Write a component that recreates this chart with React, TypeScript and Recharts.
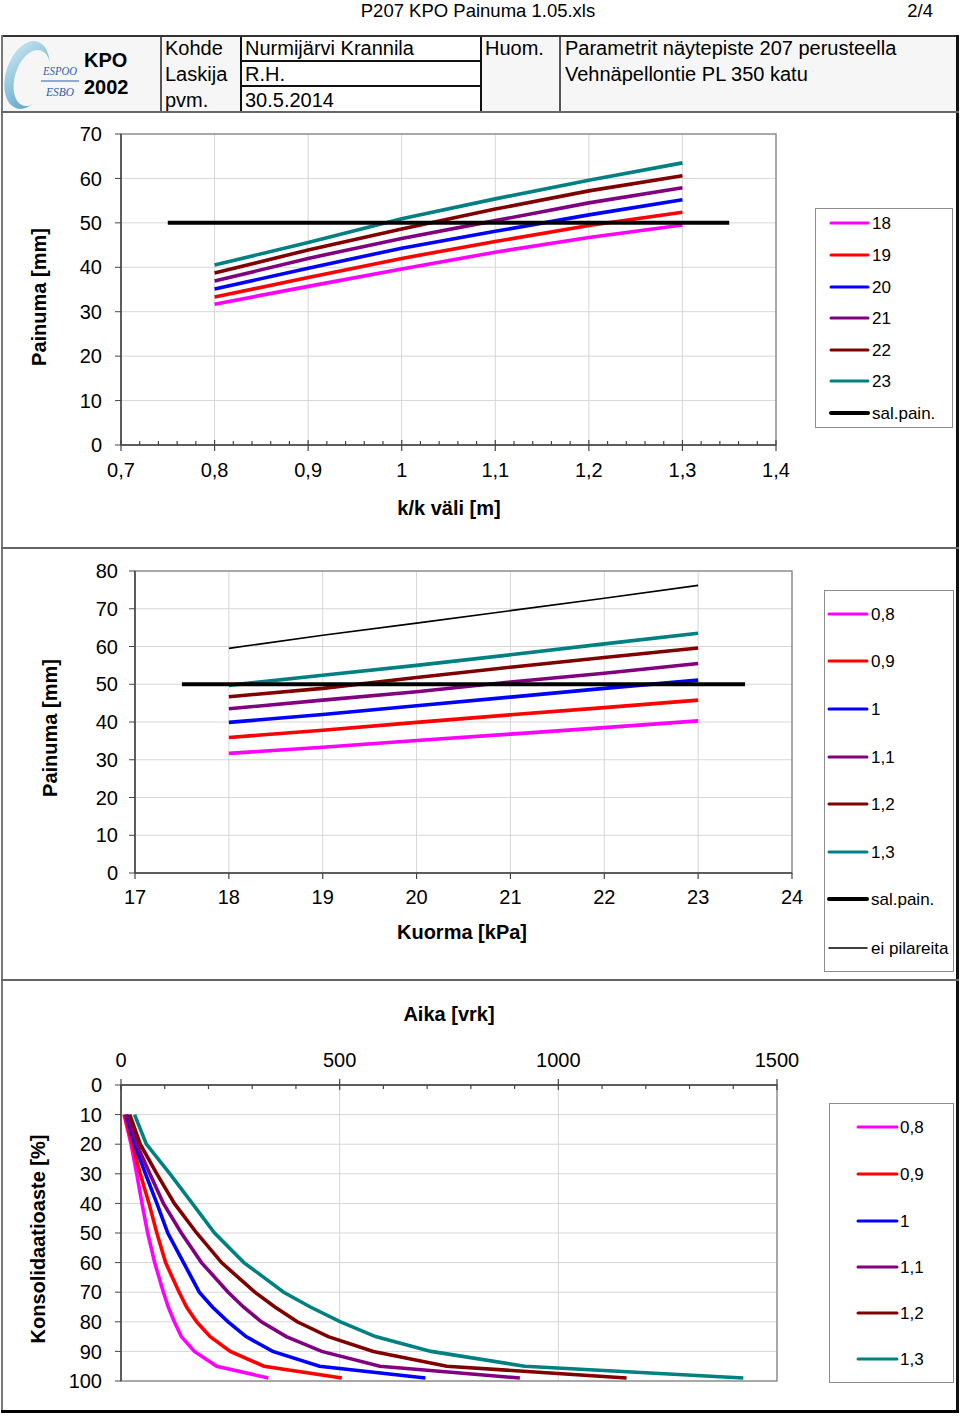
import React from 'react';
import { LineChart, Line, XAxis, YAxis, CartesianGrid, ReferenceArea, Legend } from 'recharts';

const FONT = '"Liberation Sans", Arial, Helvetica, sans-serif';

// ---------------- Chart 1: Painuma vs k/k väli ----------------
const kkValues = [0.8, 0.9, 1.0, 1.1, 1.2, 1.3];
const settleLoad18 = [31.7, 35.7, 39.6, 43.4, 46.7, 49.5];
const settleLoad19 = [33.3, 37.7, 42.0, 45.8, 49.4, 52.4];
const settleLoad20 = [35.1, 39.8, 44.3, 48.1, 51.8, 55.2];
const settleLoad21 = [36.9, 42.0, 46.5, 50.5, 54.5, 57.9];
const settleLoad22 = [38.7, 43.9, 48.6, 53.1, 57.2, 60.6];
const settleLoad23 = [40.5, 45.6, 50.9, 55.4, 59.6, 63.5];
const chart1Names = ['18', '19', '20', '21', '22', '23'];
const salPainName = 'sal.pain.';
const salPainKk = [0.75, 1.35];
const salPainLevel = [50, 50];
const kkMajorTicks = [0.7, 0.8, 0.9, 1, 1.1, 1.2, 1.3, 1.4];
const painuma70Ticks = [0, 10, 20, 30, 40, 50, 60, 70];

// ---------------- Chart 2: Painuma vs Kuorma ----------------
const loadValues = [18, 19, 20, 21, 22, 23];
const settleKk08 = [31.7, 33.3, 35.1, 36.8, 38.5, 40.3];
const settleKk09 = [35.9, 37.8, 39.9, 41.9, 43.8, 45.8];
const settleKk10 = [39.9, 42.0, 44.3, 46.6, 48.9, 51.1];
const settleKk11 = [43.5, 45.8, 48.0, 50.6, 52.9, 55.5];
const settleKk12 = [46.7, 48.9, 51.8, 54.5, 57.1, 59.6];
const settleKk13 = [49.7, 52.4, 55.0, 57.8, 60.7, 63.5];
const settleNoColumns = [59.5, 63.0, 66.2, 69.5, 72.8, 76.2];
const chart2Names = ['0,8', '0,9', '1', '1,1', '1,2', '1,3'];
const noColumnsName = 'ei pilareita';
const salPainLoad = [17.5, 23.5];
const loadTicks = [17, 18, 19, 20, 21, 22, 23, 24];
const painuma80Ticks = [0, 10, 20, 30, 40, 50, 60, 70, 80];

// ---------------- Chart 3: Konsolidaatioaste vs Aika ----------------
const consolidationLevels = [10, 20, 30, 40, 50, 60, 70, 75, 80, 85, 90, 95, 99];
const daysKk08 = [7, 23, 36, 48, 61, 77, 97, 108, 122, 138, 168, 219, 337];
const daysKk09 = [8, 26, 44, 64, 82, 102, 133, 150, 173, 204, 250, 327, 505];
const daysKk10 = [12, 31, 56, 82, 107, 143, 179, 209, 245, 286, 347, 454, 696];
const daysKk11 = [15, 36, 66, 97, 138, 184, 245, 280, 321, 378, 459, 592, 912];
const daysKk12 = [20, 44, 82, 122, 173, 230, 306, 352, 403, 474, 577, 745, 1156];
const daysKk13 = [31, 58, 112, 163, 214, 281, 372, 433, 502, 582, 709, 923, 1423];
const dayMajorTicks = [0, 500, 1000, 1500];
const consolidationTicks = [0, 10, 20, 30, 40, 50, 60, 70, 80, 90, 100];

// ---------------- styles ----------------
const seriesColors = ['#FF00FF', '#FF0000', '#0000FF', '#800080', '#800000', '#008080'];
const SERIES_W = 3.6;
const AXIS_C = '#444';
const GRID_C = '#d6d6d6';
const BORDER_C = '#8c8c8c';

// ---------------- derived data ----------------
const chart1Series = [settleLoad18, settleLoad19, settleLoad20, settleLoad21, settleLoad22, settleLoad23];
const chart1Data = kkValues.map((x, i) => {
  const row: any = { x };
  chart1Series.forEach((s, j) => (row['s' + j] = s[i]));
  return row;
});
const chart1Sal = salPainKk.map((x, i) => ({ x, v: salPainLevel[i] }));

const chart2Series = [settleKk08, settleKk09, settleKk10, settleKk11, settleKk12, settleKk13];
const chart2Data = loadValues.map((x, i) => {
  const row: any = { x, nc: settleNoColumns[i] };
  chart2Series.forEach((s, j) => (row['s' + j] = s[i]));
  return row;
});
const chart2Sal = salPainLoad.map((x, i) => ({ x, v: salPainLevel[i] }));

const chart3Series = [daysKk08, daysKk09, daysKk10, daysKk11, daysKk12, daysKk13];
const chart3Data = chart3Series.map((days) => consolidationLevels.map((u, i) => ({ t: days[i], u })));

// minor tick helpers (axis decoration)
const kkAllTicks: number[] = [];
for (let i = 0; i <= 35; i++) kkAllTicks.push(Math.round((0.7 + 0.02 * i) * 100) / 100);
const isKkMajor = (v: number) => kkMajorTicks.some((m) => Math.abs(m - v) < 1e-6);
const dayAllTicks: number[] = [];
for (let i = 0; i <= 15; i++) dayAllTicks.push(i * 100);
const isDayMajor = (v: number) => dayMajorTicks.includes(v);
const comma = (v: number) => String(v).replace('.', ',');

type TickOpts = {
  axisY: number;
  inside: number; // +1: inside is downward, -1: inside is upward
  major: (v: number) => boolean;
  fmt: (v: number) => string;
  labelY: number;
  minorLen: number;
  majorIn: number;
  majorOut: number;
};
const makeTick = (o: TickOpts) => (props: any) => {
  const { x, payload } = props;
  const v = payload.value;
  const maj = o.major(v);
  const y1 = o.axisY + o.inside * (maj ? o.majorIn : o.minorLen);
  const y2 = o.axisY - o.inside * (maj ? o.majorOut : 0);
  return (
    <g>
      <line x1={x} x2={x} y1={y1} y2={y2} stroke={AXIS_C} strokeWidth={1.2} />
      {maj && (
        <text x={x} y={o.labelY} textAnchor="middle" dominantBaseline="central" fontSize={20} fontFamily={FONT} fill="#000">
          {o.fmt(v)}
        </text>
      )}
    </g>
  );
};

const axisTitle = (text: string, x: number, y: number, vertical = false) => ({
  value: text,
  content: () => (
    <text
      x={x}
      y={y}
      textAnchor="middle"
      dominantBaseline="central"
      fontSize={20}
      fontWeight="bold"
      fontFamily={FONT}
      fill="#000"
      transform={vertical ? `rotate(-90 ${x} ${y})` : undefined}
    >
      {text}
    </text>
  ),
});

type LegendBox = { width: number; height: number; rows: number[]; lineX1: number; lineX2: number; textX: number };
const makeLegend = (box: LegendBox, order: string[], widths: Record<string, number>) => (props: any) => {
  const payload = [...(props.payload || [])].sort(
    (a: any, b: any) => order.indexOf(String(a.value)) - order.indexOf(String(b.value))
  );
  return (
    <svg width={box.width} height={box.height} style={{ display: 'block' }}>
      <rect x={0.5} y={0.5} width={box.width - 1} height={box.height - 1} fill="#fff" stroke={BORDER_C} strokeWidth={1} />
      {payload.map((e: any, i: number) => (
        <g key={String(e.value)}>
          <line
            x1={box.lineX1}
            x2={box.lineX2}
            y1={box.rows[i]}
            y2={box.rows[i]}
            stroke={e.color}
            strokeWidth={widths[String(e.value)] ?? 3}
            strokeLinecap="round"
          />
          <text x={box.textX} y={box.rows[i]} dominantBaseline="central" fontSize={17} fontFamily={FONT} fill="#000">
            {e.value}
          </text>
        </g>
      ))}
    </svg>
  );
};

const legendWidths1: Record<string, number> = { 'sal.pain.': 4 };
const legendWidths2: Record<string, number> = { 'sal.pain.': 4, 'ei pilareita': 1.5 };

const yTick = { fontSize: 20, fill: '#000', fontFamily: FONT };

function Chart1() {
  const top = 112;
  const height = 436;
  const axisY = 445 - top;
  return (
    <div style={{ position: 'absolute', left: 0, top }}>
      <LineChart width={960} height={height} data={chart1Data} margin={{ top: 22, right: 184, bottom: 73, left: 61 }}>
        <CartesianGrid stroke={GRID_C} verticalValues={[0.8, 0.9, 1, 1.1, 1.2, 1.3]} horizontalValues={[10, 20, 30, 40, 50, 60]} />
        <ReferenceArea x1={0.7} x2={1.4} y1={0} y2={70} fill="none" stroke={BORDER_C} strokeWidth={1.5} />
        <XAxis
          type="number"
          dataKey="x"
          domain={[0.7, 1.4]}
          ticks={kkAllTicks}
          interval={0}
          height={30}
          tickLine={false}
          tickSize={0}
          axisLine={{ stroke: AXIS_C, strokeWidth: 1.5 }}
          tick={makeTick({ axisY, inside: -1, major: isKkMajor, fmt: comma, labelY: 470 - top, minorLen: 4, majorIn: 5, majorOut: 6 })}
          label={axisTitle('k/k väli [m]', 449, 508 - top)}
        />
        <YAxis
          type="number"
          domain={[0, 70]}
          ticks={painuma70Ticks}
          interval={0}
          width={60}
          tickSize={6}
          tickMargin={13}
          tick={yTick}
          tickLine={{ stroke: AXIS_C }}
          axisLine={{ stroke: AXIS_C, strokeWidth: 1.5 }}
          label={axisTitle('Painuma [mm]', 39, 297 - top, true)}
        />
        {chart1Names.map((n, j) => (
          <Line
            key={n}
            type="linear"
            dataKey={'s' + j}
            name={n}
            stroke={seriesColors[j]}
            strokeWidth={SERIES_W}
            dot={false}
            isAnimationActive={false}
          />
        ))}
        <Line
          data={chart1Sal}
          type="linear"
          dataKey="v"
          name={salPainName}
          stroke="#000"
          strokeWidth={4}
          dot={false}
          isAnimationActive={false}
        />
        <Legend
          layout="horizontal"
          verticalAlign="middle"
          align="center"
          wrapperStyle={{ position: 'absolute', left: 815, top: 208 - top, width: 138, height: 220, margin: 0, padding: 0 }}
          content={makeLegend(
            { width: 138, height: 220, rows: [15, 47, 79, 110, 142, 173, 205], lineX1: 16, lineX2: 53, textX: 57 },
            [...chart1Names, salPainName],
            legendWidths1
          )}
        />
      </LineChart>
    </div>
  );
}

function Chart2() {
  const top = 548;
  const height = 432;
  const axisY = 873 - top;
  return (
    <div style={{ position: 'absolute', left: 0, top }}>
      <LineChart width={960} height={height} data={chart2Data} margin={{ top: 23, right: 168, bottom: 77, left: 75 }}>
        <CartesianGrid stroke={GRID_C} verticalValues={[18, 19, 20, 21, 22, 23]} horizontalValues={[10, 20, 30, 40, 50, 60, 70]} />
        <ReferenceArea x1={17} x2={24} y1={0} y2={80} fill="none" stroke={BORDER_C} strokeWidth={1.5} />
        <XAxis
          type="number"
          dataKey="x"
          domain={[17, 24]}
          ticks={loadTicks}
          interval={0}
          height={30}
          tickLine={false}
          tickSize={0}
          axisLine={{ stroke: AXIS_C, strokeWidth: 1.5 }}
          tick={makeTick({ axisY, inside: -1, major: () => true, fmt: (v) => String(v), labelY: 897 - top, minorLen: 0, majorIn: 0, majorOut: 6 })}
          label={axisTitle('Kuorma [kPa]', 462, 932 - top)}
        />
        <YAxis
          type="number"
          domain={[0, 80]}
          ticks={painuma80Ticks}
          interval={0}
          width={60}
          tickSize={6}
          tickMargin={11}
          tick={yTick}
          tickLine={{ stroke: AXIS_C }}
          axisLine={{ stroke: AXIS_C, strokeWidth: 1.5 }}
          label={axisTitle('Painuma [mm]', 50, 728 - top, true)}
        />
        {chart2Names.map((n, j) => (
          <Line
            key={n}
            type="linear"
            dataKey={'s' + j}
            name={n}
            stroke={seriesColors[j]}
            strokeWidth={SERIES_W}
            dot={false}
            isAnimationActive={false}
          />
        ))}
        <Line
          data={chart2Sal}
          type="linear"
          dataKey="v"
          name={salPainName}
          stroke="#000"
          strokeWidth={4}
          dot={false}
          isAnimationActive={false}
        />
        <Line type="linear" dataKey="nc" name={noColumnsName} stroke="#000" strokeWidth={1.6} dot={false} isAnimationActive={false} />
        <Legend
          layout="horizontal"
          verticalAlign="middle"
          align="center"
          wrapperStyle={{ position: 'absolute', left: 824, top: 590 - top, width: 130, height: 382, margin: 0, padding: 0 }}
          content={makeLegend(
            { width: 130, height: 382, rows: [24, 71, 119, 167, 214, 262, 309, 358], lineX1: 5, lineX2: 43, textX: 47 },
            [...chart2Names, salPainName, noColumnsName],
            legendWidths2
          )}
        />
      </LineChart>
    </div>
  );
}

function Chart3() {
  const top = 980;
  const height = 432;
  const axisY = 1085 - top;
  return (
    <div style={{ position: 'absolute', left: 0, top }}>
      <LineChart width={960} height={height} margin={{ top: 65, right: 183, bottom: 31, left: 61 }}>
        <CartesianGrid stroke={GRID_C} verticalValues={[500, 1000]} horizontalValues={[10, 20, 30, 40, 50, 60, 70, 80, 90]} />
        <ReferenceArea x1={0} x2={1500} y1={0} y2={100} fill="none" stroke={BORDER_C} strokeWidth={1.5} />
        <XAxis
          type="number"
          dataKey="t"
          orientation="top"
          domain={[0, 1500]}
          ticks={dayAllTicks}
          interval={0}
          height={40}
          tickLine={false}
          tickSize={0}
          axisLine={{ stroke: AXIS_C, strokeWidth: 1.5 }}
          tick={makeTick({ axisY, inside: 1, major: isDayMajor, fmt: (v) => String(v), labelY: 1060 - top, minorLen: 4, majorIn: 5, majorOut: 6 })}
          label={axisTitle('Aika [vrk]', 449, 1014 - top)}
        />
        <YAxis
          type="number"
          reversed
          domain={[0, 100]}
          ticks={consolidationTicks}
          interval={0}
          width={60}
          tickSize={6}
          tickMargin={13}
          tick={yTick}
          tickLine={{ stroke: AXIS_C }}
          axisLine={{ stroke: AXIS_C, strokeWidth: 1.5 }}
          label={axisTitle('Konsolidaatioaste [%]', 38, 1239 - top, true)}
        />
        {chart2Names.map((n, j) => (
          <Line
            key={n}
            data={chart3Data[j]}
            type="linear"
            dataKey="u"
            name={n}
            stroke={seriesColors[j]}
            strokeWidth={SERIES_W}
            dot={false}
            isAnimationActive={false}
          />
        ))}
        <Legend
          layout="horizontal"
          verticalAlign="middle"
          align="center"
          wrapperStyle={{ position: 'absolute', left: 829, top: 1103 - top, width: 125, height: 280, margin: 0, padding: 0 }}
          content={makeLegend(
            { width: 125, height: 280, rows: [24, 71, 118, 164, 210, 256], lineX1: 29, lineX2: 68, textX: 71 },
            chart2Names,
            {}
          )}
        />
      </LineChart>
    </div>
  );
}

const Txt = ({ x, y, children, size = 20, bold = false }: any) => (
  <div
    style={{
      position: 'absolute',
      left: x,
      top: y - 12,
      height: 24,
      lineHeight: '24px',
      fontSize: size,
      fontWeight: bold ? 'bold' : 'normal',
      whiteSpace: 'nowrap',
      fontFamily: FONT,
      color: '#000',
    }}
  >
    {children}
  </div>
);

const Box = ({ l, t, w, h, c }: any) => (
  <div style={{ position: 'absolute', left: l, top: t, width: w, height: h, background: c }} />
);

export default function App() {
  return (
    <div
      style={{
        position: 'absolute',
        left: 0,
        top: 0,
        width: 960,
        height: 1416,
        background: '#fff',
        overflow: 'hidden',
        fontFamily: FONT,
      }}
    >
      {/* page title */}
      <div style={{ position: 'absolute', left: 0, width: 956, top: 0, height: 22, lineHeight: '22px', textAlign: 'center', fontSize: 18.5 }}>
        P207 KPO Painuma 1.05.xls
      </div>
      <div style={{ position: 'absolute', right: 27, top: 0, height: 22, lineHeight: '22px', fontSize: 18.5 }}>2/4</div>

      {/* header background */}
      <Box l={2} t={36} w={955} h={76} c="#f6f6f6" />
      <Box l={242} t={37} w={239} h={74} c="#fff" />

      {/* logo */}
      <svg width={80} height={74} style={{ position: 'absolute', left: 3, top: 37 }}>
        <defs>
          <linearGradient id="logoGrad" x1="0" y1="0" x2="1" y2="1">
            <stop offset="0" stopColor="#cfeaf3" />
            <stop offset="1" stopColor="#4e9cc4" />
          </linearGradient>
        </defs>
        <ellipse cx={24} cy={38} rx={21} ry={35} fill="url(#logoGrad)" transform="rotate(18 24 38)" />
        <ellipse cx={29} cy={41} rx={17} ry={29} fill="#f6f6f6" transform="rotate(18 29 41)" />
        <text
          x={40}
          y={38}
          fontFamily='"Liberation Serif", serif'
          fontStyle="italic"
          fontSize={13}
          fill="#2a5ea8"
          textLength={34}
          lengthAdjust="spacingAndGlyphs"
        >
          ESPOO
        </text>
        <line x1={38} x2={76} y1={44} y2={44} stroke="#2a5ea8" strokeWidth={1} />
        <text
          x={43}
          y={59}
          fontFamily='"Liberation Serif", serif'
          fontStyle="italic"
          fontSize={13}
          fill="#2a5ea8"
          textLength={28}
          lengthAdjust="spacingAndGlyphs"
        >
          ESBO
        </text>
      </svg>
      <Txt x={84} y={60} bold>KPO</Txt>
      <Txt x={84} y={87} bold>2002</Txt>

      <Txt x={165} y={48}>Kohde</Txt>
      <Txt x={165} y={74}>Laskija</Txt>
      <Txt x={165} y={100}>pvm.</Txt>
      <Txt x={245} y={48}>Nurmijärvi Krannila</Txt>
      <Txt x={245} y={74}>R.H.</Txt>
      <Txt x={245} y={100}>30.5.2014</Txt>
      <Txt x={485} y={48}>Huom.</Txt>
      <Txt x={565} y={48}>Parametrit näytepiste 207 perusteella</Txt>
      <Txt x={565} y={74}>Vehnäpellontie PL 350 katu</Txt>

      {/* header grid lines */}
      <Box l={160} t={36} w={1.5} h={76} c="#555" />
      <Box l={240} t={36} w={2} h={76} c="#111" />
      <Box l={480} t={36} w={2} h={76} c="#111" />
      <Box l={559} t={36} w={1.5} h={76} c="#555" />
      <Box l={240} t={60} w={242} h={2} c="#111" />
      <Box l={240} t={85} w={242} h={2} c="#111" />

      <Chart1 />
      <Chart2 />
      <Chart3 />

      {/* page frame */}
      <Box l={1} t={35} w={958} h={2} c="#333" />
      <Box l={1} t={35} w={2} h={1378} c="#777" />
      <Box l={956} t={35} w={2.5} h={1378} c="#111" />
      <Box l={1} t={1410} w={958} h={3} c="#000" />
      <Box l={1} t={111} w={958} h={1.5} c="#666" />
      <Box l={1} t={547} w={958} h={1.5} c="#666" />
      <Box l={1} t={979} w={958} h={1.5} c="#666" />
    </div>
  );
}
